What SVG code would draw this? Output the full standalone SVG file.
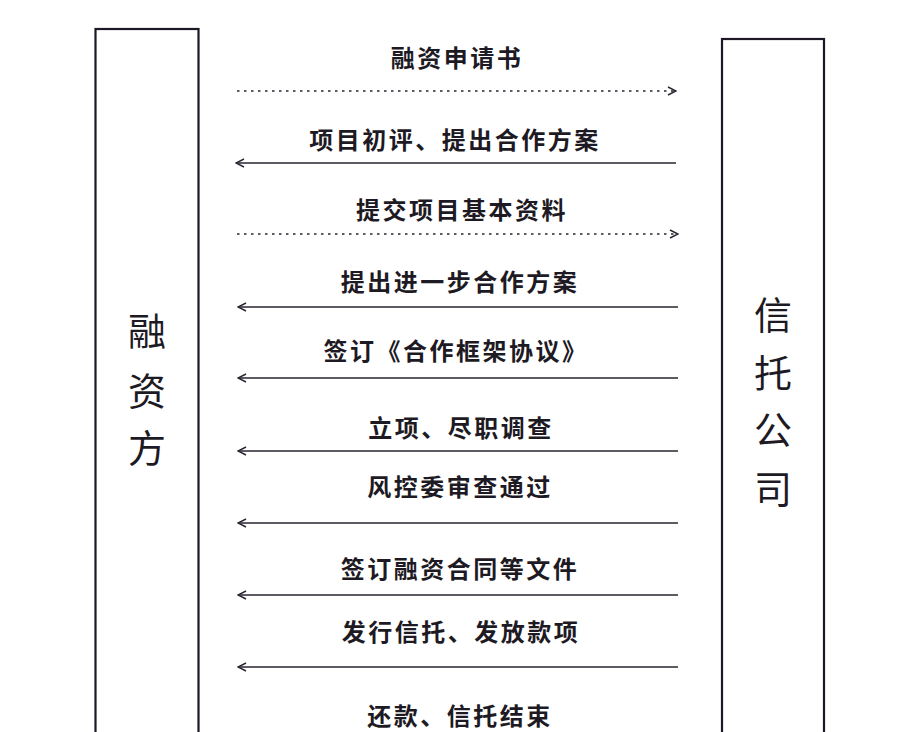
<svg xmlns="http://www.w3.org/2000/svg" width="924" height="732" viewBox="0 0 924 732">
<style>
.box{fill:#ffffff;stroke:#1e1726;stroke-width:2.2}
.lbl{font-family:"Noto Sans CJK SC","Noto Sans",sans-serif;font-size:24px;font-weight:bold;fill:#1e1a24;text-anchor:middle;letter-spacing:2.5px}
.big{font-family:"Noto Sans CJK SC","Noto Sans",sans-serif;font-size:38px;font-weight:400;fill:#1e1a24;text-anchor:middle}
.ln{stroke:#2a2530;stroke-width:1.3;fill:none}
.dash{stroke-dasharray:2.5 4.5}
</style>
<defs>
<marker id="ah" viewBox="0 0 10 10" refX="9" refY="5" markerWidth="10" markerHeight="10" markerUnits="userSpaceOnUse" orient="auto">
<path d="M1,1 L9,5 L1,9" fill="none" stroke="#2a2530" stroke-width="1.4"/>
</marker>
</defs>
<rect width="924" height="732" fill="#ffffff"/>
<g id="node-rongzifang">
<rect class="box" x="95.5" y="29" width="103" height="720"/>
<text class="big" x="147" y="345">融</text>
<text class="big" x="147" y="405">资</text>
<text class="big" x="147" y="462">方</text>
</g>
<g id="node-xintuo">
<rect class="box" x="722" y="39" width="102" height="710"/>
<text class="big" x="773" y="329">信</text>
<text class="big" x="773" y="387">托</text>
<text class="big" x="773" y="444">公</text>
<text class="big" x="773" y="503">司</text>
</g>
<g id="connectors">
<line class="ln dash" x1="237" y1="91" x2="676" y2="91" marker-end="url(#ah)"/>
<line class="ln" x1="676" y1="163" x2="236" y2="163" marker-end="url(#ah)"/>
<line class="ln dash" x1="237" y1="234" x2="678" y2="234" marker-end="url(#ah)"/>
<line class="ln" x1="678" y1="307" x2="238" y2="307" marker-end="url(#ah)"/>
<line class="ln" x1="678" y1="378" x2="238" y2="378" marker-end="url(#ah)"/>
<line class="ln" x1="678" y1="451" x2="238" y2="451" marker-end="url(#ah)"/>
<line class="ln" x1="678" y1="523" x2="238" y2="523" marker-end="url(#ah)"/>
<line class="ln" x1="678" y1="595" x2="238" y2="595" marker-end="url(#ah)"/>
<line class="ln" x1="678" y1="667" x2="238" y2="667" marker-end="url(#ah)"/>
</g>
<g id="labels">
<text class="lbl" x="457" y="67">融资申请书</text>
<text class="lbl" x="455" y="149">项目初评、提出合作方案</text>
<text class="lbl" x="462" y="219">提交项目基本资料</text>
<text class="lbl" x="460" y="291">提出进一步合作方案</text>
<text class="lbl" x="456" y="360">签订《合作框架协议》</text>
<text class="lbl" x="461" y="437">立项、尽职调查</text>
<text class="lbl" x="460" y="496">风控委审查通过</text>
<text class="lbl" x="460" y="578">签订融资合同等文件</text>
<text class="lbl" x="461" y="641">发行信托、发放款项</text>
<text class="lbl" x="460" y="725">还款、信托结束</text>
</g>
</svg>
